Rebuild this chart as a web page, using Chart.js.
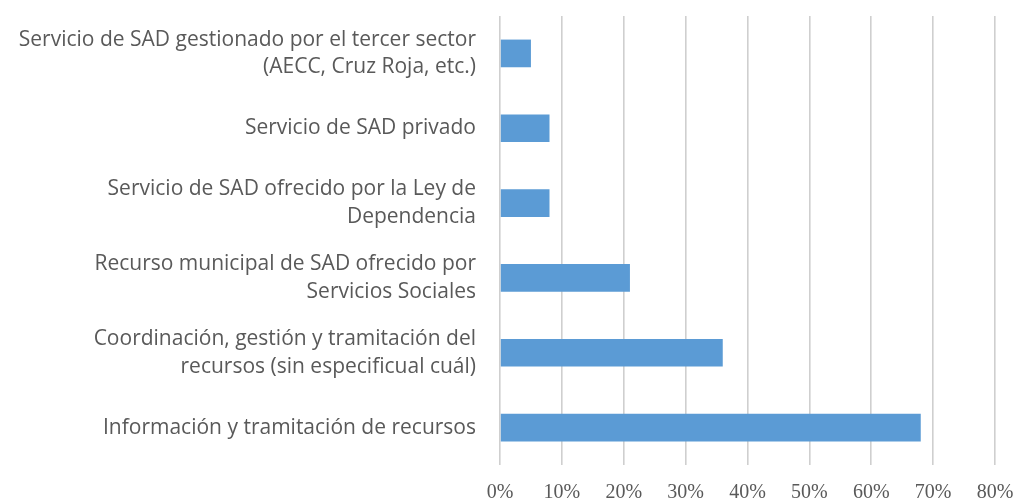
<!DOCTYPE html>
<html>
<head>
<meta charset="utf-8">
<script src="https://cdn.jsdelivr.net/npm/chart.js@4.4.1/dist/chart.umd.min.js"></script>
<style>
  html, body { margin: 0; padding: 0; background: #fff; }
  #wrap { width: 1019px; height: 501px; }
</style>
</head>
<body>
<div id="wrap"><canvas id="barChart"></canvas></div>
<script>
// categories (top to bottom), each one split into its printed lines
var categories = [
  ["Servicio de SAD gestionado por el tercer sector", "(AECC, Cruz Roja, etc.)"],
  ["Servicio de SAD privado"],
  ["Servicio de SAD ofrecido por la Ley de", "Dependencia"],
  ["Recurso municipal de SAD ofrecido por", "Servicios Sociales"],
  ["Coordinación, gestión y tramitación del", "recursos (sin especificual cuál)"],
  ["Información y tramitación de recursos"]
];
// percentages
var values = [5, 8, 8, 21, 36, 68];
// x axis ticks
var xMin = 0;
var xMax = 80;
var xStep = 10;

var AXIS_LEFT = 500;

var ctx = document.getElementById("barChart").getContext("2d");
var myChart = new Chart(ctx, {
  type: 'bar',
  data: {
    labels: categories,
    datasets: [{
      data: values,
      backgroundColor: '#5b9bd5',
      borderWidth: 0,
      barPercentage: 0.37,
      categoryPercentage: 1
    }]
  },
  options: {
    indexAxis: 'y',
    responsive: true,
    maintainAspectRatio: false,
    animation: false,
    layout: { padding: { top: 16, right: 24, bottom: 0, left: 0 } },
    plugins: {
      legend: { display: false },
      tooltip: { enabled: false }
    },
    scales: {
      x: {
        min: xMin,
        max: xMax,
        ticks: {
          stepSize: xStep,
          padding: 18,
          color: '#595959',
          font: { family: '"Liberation Serif", "Times New Roman", serif', size: 20, lineHeight: 1 },
          callback: function (v) { return v + '%'; }
        },
        grid: { color: '#cfcfcf', lineWidth: 1.6, drawTicks: false },
        border: { display: false },
        // ticks.padding is counted twice by chart.js, keep the axis box tight
        afterFit: function (scale) {
          scale.height = 36;
          scale.paddingLeft = 0;
          scale.paddingRight = 0;
        }
      },
      y: {
        ticks: {
          padding: 24,
          color: '#595959',
          font: { family: '"Open Sans", "Noto Sans", sans-serif', size: 21, lineHeight: 1.32 }
        },
        grid: { display: false, drawTicks: false },
        border: { display: false },
        afterFit: function (scale) {
          scale.width = AXIS_LEFT;
          scale.paddingTop = 0;
          scale.paddingBottom = 0;
        }
      }
    }
  }
});
</script>
</body>
</html>
